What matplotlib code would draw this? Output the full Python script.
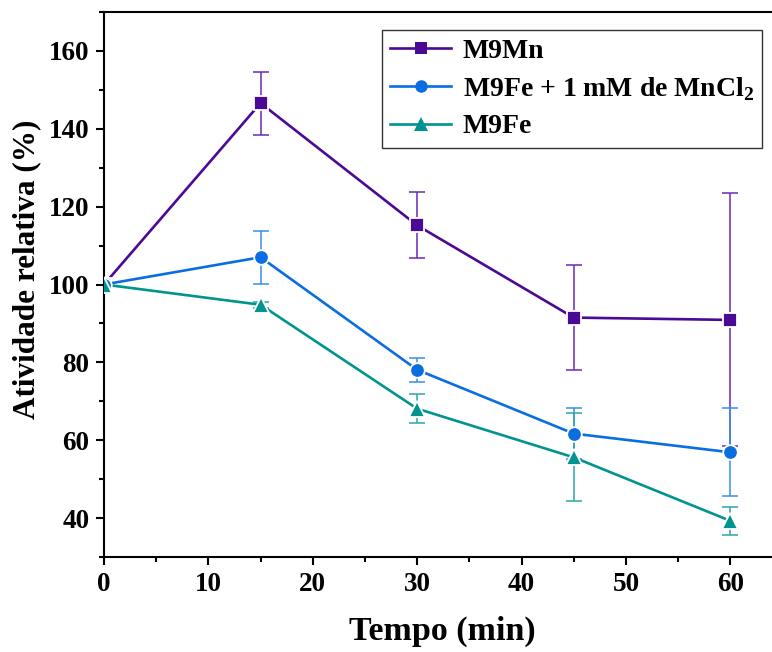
import matplotlib
matplotlib.use('Agg')
import matplotlib.pyplot as plt
from matplotlib.lines import Line2D
from matplotlib.ticker import MultipleLocator

# Dados
tempo = [0, 15, 30, 45, 60]

m9mn = [100, 146.6, 115.2, 91.5, 90.9]
m9mn_err = [0, 8.1, 8.5, 13.4, 32.5]

m9fe_mn = [100, 107.0, 78.1, 61.7, 56.9]
m9fe_mn_err = [0, 6.8, 3.1, 6.5, 11.3]

m9fe = [100, 94.8, 68.1, 55.6, 39.3]
m9fe_err = [0, 0.8, 3.7, 11.3, 3.6]

labels = ['M9Mn', r'M9Fe + 1 mM de MnCl$_\mathbf{2}$', 'M9Fe']

plt.rcParams['font.family'] = ['Liberation Serif', 'DejaVu Serif']
plt.rcParams['font.weight'] = 'bold'
plt.rcParams['xtick.labelsize'] = 19.5
plt.rcParams['ytick.labelsize'] = 19.5
plt.rcParams['mathtext.fontset'] = 'custom'
plt.rcParams['mathtext.rm'] = 'Liberation Serif:bold'
plt.rcParams['mathtext.bf'] = 'Liberation Serif:bold'

fig = plt.figure(figsize=(7.72, 6.52), dpi=100)
ax = fig.add_axes([104 / 772, 95 / 652, 668 / 772, 545 / 652])

series = [
    (m9mn, m9mn_err, '#4a0a96', '#6a2bb5', 's', 9.5),
    (m9fe_mn, m9fe_mn_err, '#0a6ee0', '#3a8ee8', 'o', 10.5),
    (m9fe, m9fe_err, '#009490', '#2aa8a4', '^', 11),
]

handles = []
for (y, err, color, ecolor, marker, ms), label in zip(series, labels):
    ax.errorbar(tempo, y, yerr=err, fmt='none', ecolor=ecolor,
                elinewidth=1.1, capsize=5.5, capthick=1.1, zorder=2)
    ax.plot(tempo, y, color=color, linewidth=1.9, zorder=3)
    ax.plot(tempo, y, linestyle='none', marker=marker, markersize=ms,
            color=color, markeredgecolor='white', markeredgewidth=1.3,
            zorder=4)
    handles.append(Line2D([], [], color=color, linewidth=1.9, marker=marker,
                          markersize=ms - 1.5, markeredgewidth=0))

ax.set_xlim(0, 64)
ax.set_ylim(30, 170)
ax.xaxis.set_major_locator(MultipleLocator(10))
ax.xaxis.set_minor_locator(MultipleLocator(5))
ax.yaxis.set_major_locator(MultipleLocator(20))
ax.yaxis.set_minor_locator(MultipleLocator(10))

ax.tick_params(which='major', direction='out', length=5.5, width=1.5, pad=5)
ax.tick_params(which='minor', direction='out', length=3.5, width=1.5)

for s in ['left', 'bottom', 'top']:
    ax.spines[s].set_linewidth(1.5)
ax.spines['right'].set_visible(False)

ax.set_xlabel('Tempo (min)', fontsize=24.5, fontweight='bold')
ax.xaxis.set_label_coords(0.507, -0.108)
ax.set_ylabel('Atividade relativa (%)', fontsize=22.5, fontweight='bold')
ax.yaxis.set_label_coords(-0.094, 0.528)

leg = ax.legend(handles, labels, loc='upper left',
                bbox_to_anchor=((382 - 104) / 668, (622 - 95) / 545),
                prop={'size': 20, 'weight': 'bold'}, frameon=True,
                fancybox=False, edgecolor='black', handlelength=2.2,
                handletextpad=0.4, borderpad=0.3, labelspacing=0.4,
                borderaxespad=0)
leg.get_frame().set_linewidth(1.0)

plt.savefig('out.png', dpi=100)
